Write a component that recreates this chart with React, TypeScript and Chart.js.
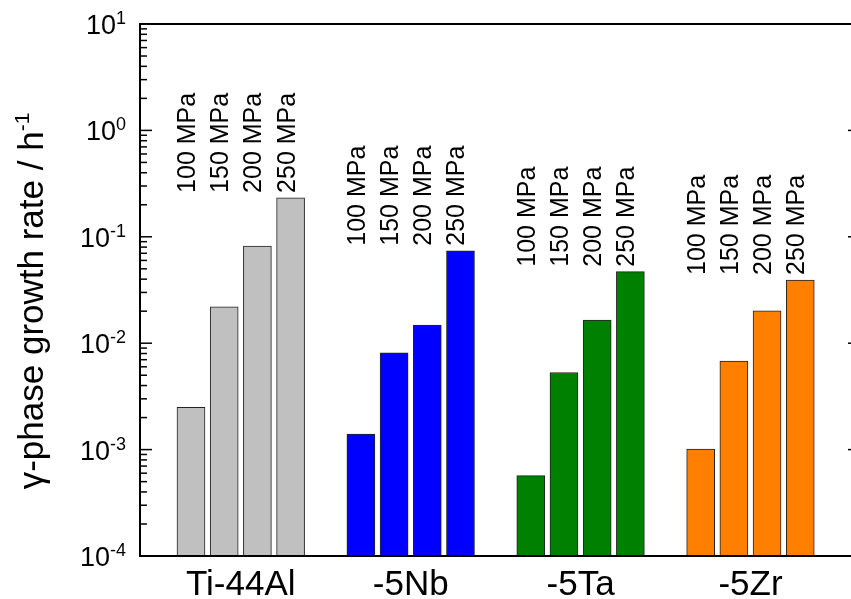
import React, { useEffect, useRef } from 'react';
import { Chart, registerables } from 'chart.js';

Chart.register(...registerables);

// ---- data ----
const groups = ['Ti-44Al', '-5Nb', '-5Ta', '-5Zr'];
const pressures = ['100 MPa', '150 MPa', '200 MPa', '250 MPa'];
const tiAl = [0.0025, 0.022, 0.082, 0.232];
const nb5 = [0.0014, 0.0081, 0.0148, 0.074];
const ta5 = [0.00057, 0.0053, 0.0165, 0.047];
const zr5 = [0.00101, 0.0068, 0.0201, 0.0393];
const groupValues = [tiAl, nb5, ta5, zr5];
const groupColors = ['#C0C0C0', '#0000FF', '#008000', '#FF8000'];
const decades = [-4, -3, -2, -1, 0, 1];
const yTitle = 'γ-phase growth rate / h';
const yTitleSup = '-1';

// layout helpers (positions of bars inside a group, in group units)
const BAR_STEP = 0.1954;
const barX = (g: number, j: number) => g + 1 + (j - 1.5) * BAR_STEP;

const FONT = '"Liberation Sans", Arial, sans-serif';

const annotPlugin = {
  id: 'annot',
  afterDatasetsDraw(chart: any) {
    const { ctx, chartArea: a, scales } = chart;
    const xs = scales.x;
    const ys = scales.y;
    ctx.save();
    ctx.fillStyle = '#000';
    ctx.strokeStyle = '#000';

    // frame
    ctx.lineWidth = 2;
    ctx.strokeRect(a.left, a.top, a.right - a.left, a.bottom - a.top);

    const seg = (x1: number, y1: number, x2: number, y2: number) => {
      ctx.beginPath();
      ctx.moveTo(x1, y1);
      ctx.lineTo(x2, y2);
      ctx.stroke();
    };

    // y ticks (inward, left and right)
    ctx.lineWidth = 1.5;
    decades.forEach((e, i) => {
      const v = Math.pow(10, e);
      const y = ys.getPixelForValue(v);
      seg(a.left, y, a.left + 12, y);
      seg(a.right - 12, y, a.right, y);
      if (i < decades.length - 1) {
        for (let k = 2; k <= 9; k++) {
          const yy = ys.getPixelForValue(k * v);
          seg(a.left, yy, a.left + 7, yy);
          seg(a.right - 7, yy, a.right, yy);
        }
      }
      // label 10^e
      const base = '10';
      const sup = String(e);
      ctx.font = `27px ${FONT}`;
      const wb = ctx.measureText(base).width;
      ctx.font = `18px ${FONT}`;
      const ws = ctx.measureText(sup).width;
      const right = a.left - 14;
      const baseline = y + 10;
      ctx.textAlign = 'left';
      ctx.textBaseline = 'alphabetic';
      ctx.font = `27px ${FONT}`;
      ctx.fillText(base, right - ws - wb, baseline);
      ctx.font = `18px ${FONT}`;
      ctx.fillText(sup, right - ws, baseline - 10);
    });

    // y title (rotated)
    {
      ctx.font = `35px ${FONT}`;
      const wm = ctx.measureText(yTitle).width;
      ctx.font = `21px ${FONT}`;
      const wsup = ctx.measureText(yTitleSup).width;
      const total = wm + wsup;
      const cy = (a.top + a.bottom) / 2 + 11;
      ctx.save();
      ctx.translate(43, cy);
      ctx.rotate(-Math.PI / 2);
      ctx.textAlign = 'left';
      ctx.textBaseline = 'alphabetic';
      ctx.font = `35px ${FONT}`;
      ctx.fillText(yTitle, -total / 2, 0);
      ctx.font = `21px ${FONT}`;
      ctx.fillText(yTitleSup, -total / 2 + wm, -14);
      ctx.restore();
    }

    // pressure labels above each group (rotated)
    ctx.font = `25px ${FONT}`;
    groupValues.forEach((vals, g) => {
      const maxV = Math.max(...vals);
      const yStart = ys.getPixelForValue(maxV) - 5;
      pressures.forEach((p, j) => {
        const x = xs.getPixelForValue(barX(g, j)) + 4;
        ctx.save();
        ctx.translate(x, yStart);
        ctx.rotate(-Math.PI / 2);
        ctx.textAlign = 'left';
        ctx.textBaseline = 'alphabetic';
        ctx.fillText(p, 0, 0);
        ctx.restore();
      });
    });

    // group labels under the axis
    ctx.font = `35px ${FONT}`;
    ctx.textAlign = 'center';
    ctx.textBaseline = 'alphabetic';
    groups.forEach((name, g) => {
      ctx.fillText(name, xs.getPixelForValue(g + 1), a.bottom + 39);
    });

    ctx.restore();
  },
};

export default function App() {
  const canvasRef = useRef<HTMLCanvasElement | null>(null);

  useEffect(() => {
    const canvas = canvasRef.current;
    if (!canvas) return;
    const datasets = groupValues.map((vals, g) => ({
      label: groups[g],
      data: vals.map((v, j) => ({ x: barX(g, j), y: v })),
      backgroundColor: groupColors[g],
      borderColor: '#222',
      borderWidth: 1,
      barThickness: 28,
      grouped: false,
    }));
    const chart = new Chart(canvas, {
      type: 'bar',
      data: { datasets },
      options: {
        responsive: false,
        animation: false,
        devicePixelRatio: 1,
        layout: { padding: { left: 140, top: 24, right: 40, bottom: 43 } },
        plugins: {
          legend: { display: false },
          tooltip: { enabled: false },
          title: { display: false },
        },
        scales: {
          x: {
            type: 'linear',
            display: false,
            offset: false,
            min: 0.4067,
            max: 4.6447,
          },
          y: {
            type: 'logarithmic',
            display: false,
            min: 1e-4,
            max: 10,
          },
        },
      },
      plugins: [annotPlugin],
    } as any);
    return () => chart.destroy();
  }, []);

  return (
    <div
      style={{
        position: 'fixed',
        left: 0,
        top: 0,
        width: 851,
        height: 599,
        overflow: 'hidden',
        background: '#fff',
      }}
    >
      <canvas ref={canvasRef} width={900} height={599} style={{ display: 'block' }} />
    </div>
  );
}
